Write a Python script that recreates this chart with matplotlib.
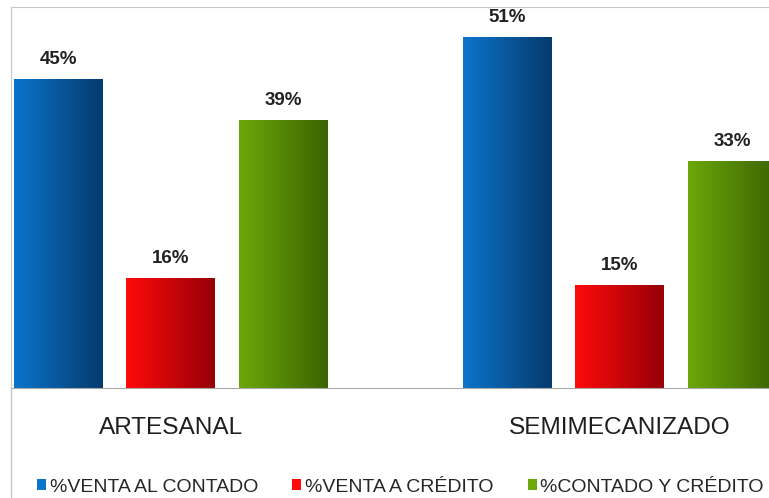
import matplotlib
matplotlib.use("Agg")
import matplotlib.pyplot as plt
import matplotlib.transforms as mtransforms
import numpy as np
from matplotlib.colors import LinearSegmentedColormap
from matplotlib.lines import Line2D

plt.rcParams["font.family"] = ["Liberation Sans", "DejaVu Sans"]

# data
categories = ["ARTESANAL", "SEMIMECANIZADO"]
series = ["%VENTA AL CONTADO", "%VENTA A CRÉDITO", "%CONTADO Y CRÉDITO"]
contado = [45, 51]
credito = [16, 15]
ambos = [39, 33]
# (light left, dark right) gradient per series
shades = [("#0b74cc", "#053a6e"), ("#ff0a0a", "#960008"), ("#6ca80a", "#3b6300")]

W, H = 769, 498
fig = plt.figure(figsize=(W / 100, H / 100), dpi=100)
ax = fig.add_axes([11 / W, (H - 388) / H, 1 - 11 / W, (388 - 7) / H])

x = np.arange(len(categories))
step, width = 0.2506, 0.198
grad = np.linspace(0, 1, 256).reshape(1, -1)
handles = []
for i, (vals, (c0, c1)) in enumerate(zip([contado, credito, ambos], shades)):
    cmap = LinearSegmentedColormap.from_list(f"g{i}", [c0, c1])
    bars = ax.bar(x + (i - 1) * step, vals, width, color=c0, edgecolor="none", zorder=1)
    handles.append(bars)
    for b, v in zip(bars, vals):
        x0, w, h = b.get_x(), b.get_width(), b.get_height()
        im = ax.imshow(grad, cmap=cmap, extent=[x0, x0 + w, 0, h],
                       aspect="auto", zorder=2)
        im.set_clip_path(b)
        ax.annotate(f"{v}%", (x0 + w / 2, h), xytext=(0, 10.8),
                    textcoords="offset points", ha="center", va="baseline",
                    fontsize=13.5, fontweight="bold", color="#222222")

ax.set_xlim(-0.356, 1.332)
ax.set_ylim(0, 55.4)
ax.set_xticks([])
ax.set_yticks([])
ax.spines["right"].set_visible(False)
for s in ("top", "left"):
    ax.spines[s].set_color("#c8c8c8")
ax.spines["bottom"].set_color("#a8a8a8")

# frame continues below the plot area
fig.add_artist(Line2D([11 / W, 11 / W], [0, (H - 388) / H], color="#c8c8c8",
                      lw=1, transform=fig.transFigure))

trans = mtransforms.blended_transform_factory(ax.transData, ax.transAxes)
for xi, cat in zip(x, categories):
    ax.text(xi, -(434 - 388) / 381, cat, transform=trans, ha="center",
            va="baseline", fontsize=17.6, color="#1e1e1e")

leg = fig.legend(handles, series, loc="center left",
                 bbox_to_anchor=(37 / W, 1 - 487 / H), ncol=3, frameon=False,
                 prop={"size": 14.0},
                 handlelength=0.46, handleheight=0.46, handletextpad=0.2,
                 columnspacing=1.75, borderpad=0, borderaxespad=0)
for t in leg.get_texts():
    t.set_color("#262626")

fig.savefig("out.png", dpi=100)
